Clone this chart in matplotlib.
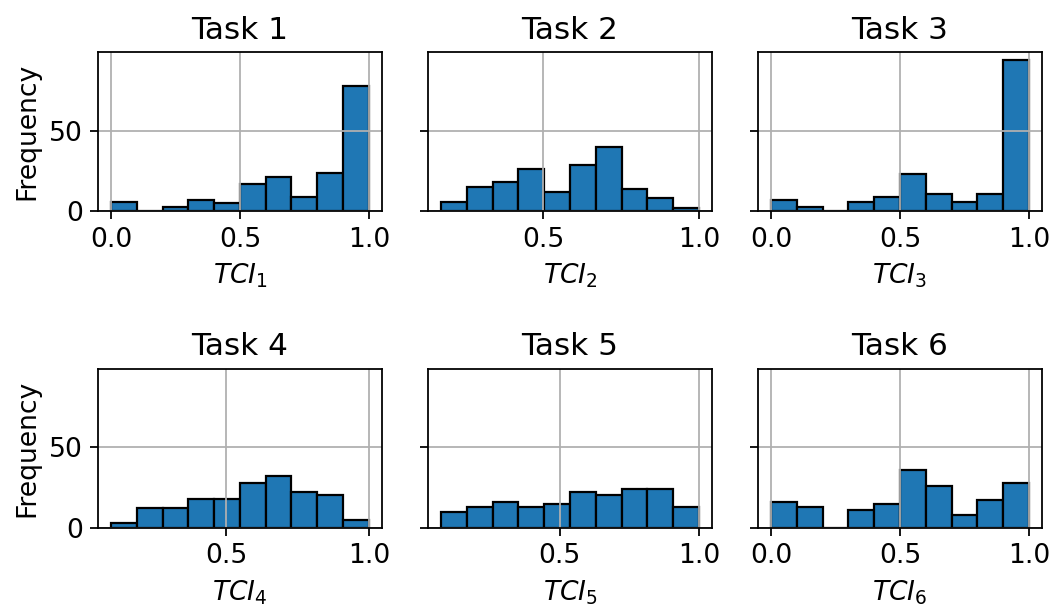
import numpy as np
import matplotlib
matplotlib.use("Agg")
import matplotlib.pyplot as plt
from matplotlib.ticker import MultipleLocator

# counts per bin (10 bins each)
task_names = ["Task 1", "Task 2", "Task 3", "Task 4", "Task 5", "Task 6"]
x_labels = [r"$TCI_1$", r"$TCI_2$", r"$TCI_3$", r"$TCI_4$", r"$TCI_5$", r"$TCI_6$"]
range_min = [0.0, 0.172, 0.0, 0.097, 0.073, 0.0]
range_max = [1.0, 1.0, 1.0, 1.0, 1.0, 1.0]

counts_1 = [6, 0, 3, 7, 5, 17, 21, 9, 24, 78]
counts_2 = [6, 15, 18, 26, 12, 29, 40, 14, 8, 2]
counts_3 = [7, 3, 0, 6, 9, 23, 11, 6, 11, 94]
counts_4 = [3, 12, 12, 18, 18, 28, 32, 22, 20, 5]
counts_5 = [10, 13, 16, 13, 15, 22, 20, 24, 24, 13]
counts_6 = [16, 13, 0, 11, 15, 36, 26, 8, 17, 28]
all_counts = [counts_1, counts_2, counts_3, counts_4, counts_5, counts_6]

DPI = 160
fig, axes = plt.subplots(2, 3, figsize=(1052 / DPI, 610 / DPI), dpi=DPI, sharey=True)
fig.subplots_adjust(left=0.0934, right=0.9902, top=0.9143, bottom=0.1349,
                    wspace=0.1644, hspace=0.989)

for i, ax in enumerate(axes.flat):
    edges = np.linspace(range_min[i], range_max[i], len(all_counts[i]) + 1)
    ax.hist(edges[:-1], bins=edges, weights=all_counts[i],
            color="#1f77b4", edgecolor="black", linewidth=1.0)
    ax.set_title(task_names[i], fontsize=14)
    ax.set_xlabel(x_labels[i], fontsize=12)
    ax.xaxis.set_major_locator(MultipleLocator(0.5))
    ax.yaxis.set_major_locator(MultipleLocator(50))
    ax.tick_params(labelsize=12)
    ax.grid(True)
    if i % 3 == 0:
        ax.set_ylabel("Frequency", fontsize=12)

fig.savefig("out.png", dpi=DPI)
